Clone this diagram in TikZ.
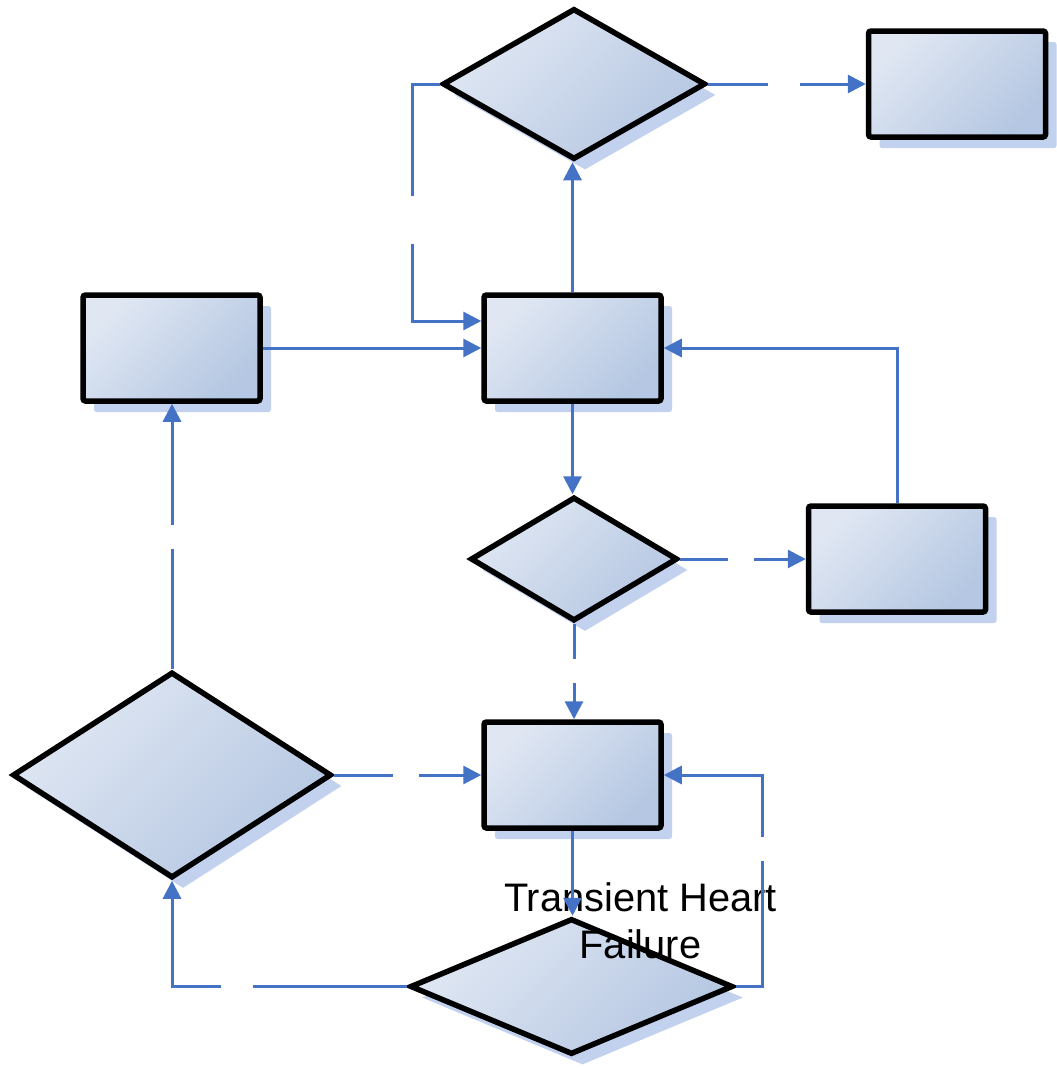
\documentclass[tikz,border=0pt]{standalone}
\usepackage{fontspec}
\setmainfont{Liberation Sans}
\usetikzlibrary{shapes.geometric,arrows.meta,shadows}
\definecolor{linkblue}{RGB}{68,114,196}
\definecolor{filllight}{RGB}{224,231,243}
\definecolor{filldark}{RGB}{181,199,226}
\definecolor{shadowc}{RGB}{194,209,238}
\tikzset{
  shapebase/.style={draw=black, line width=5.5pt, shade, top color=filllight, bottom color=filldark, shading angle=45,
    drop shadow={shadow xshift=11pt, shadow yshift=-11pt, fill=shadowc, opacity=1}, inner sep=0pt},
  procbox/.style={shapebase, rectangle, rounded corners=2.5pt, minimum width=177pt, minimum height=106pt},
  decis/.style={shapebase, diamond},
  link/.style={draw=linkblue, line width=3pt, -{Triangle[length=18pt,width=18pt]}},
  txt/.style={font=\fontsize{39.8}{47}\selectfont, align=center, inner sep=0pt}
}
\begin{document}
\begin{tikzpicture}[x=1pt,y=-1pt]
\useasboundingbox (0,0) rectangle (1057,1068);
% shapes
\node[decis, minimum width=263pt, minimum height=151pt] (D1) at (574,84) {};
\node[procbox] (B1) at (957,84) {};
\node[procbox] (B2) at (171.5,348) {};
\node[procbox] (B3) at (572.5,348) {};
\node[decis, minimum width=207pt, minimum height=124pt] (D2) at (574,559) {};
\node[procbox] (B4) at (897,559) {};
\node[decis, minimum width=319pt, minimum height=206pt] (D3) at (172,775) {};
\node[procbox] (B5) at (572.5,775) {};
\node[decis, minimum width=323pt, minimum height=136pt] (D4) at (571.5,986.5) {};
% label
\node[txt] (T) at (640.5,920.5) {Transient Heart\\Failure};
% connectors
\draw[link, dash pattern=on 139pt off 48pt on 2000pt] (D1.west) -- ++(-27,0) |- ([yshift=27pt]B3.west);
\draw[link] (B3.north) -- (B3.north |- D1.south);
\draw[link, dash pattern=on 60pt off 32pt on 2000pt] (D1.east) -- (B1.west);
\draw[link] (B2.east) -- (B3.west);
\draw[link] (B4.north) |- (B3.east);
\draw[link] (B3.south) -- (B3.south |- D2.north);
\draw[link, dash pattern=on 48pt off 26pt on 2000pt] (D2.east) -- (B4.west);
\draw[link, dash pattern=on 35pt off 24pt on 2000pt] (D2.south) -- (D2.south |- B5.north);
\draw[link, dash pattern=on 120pt off 24pt on 2000pt] (D3.north) -- (D3.north |- B2.south);
\draw[link, dash pattern=on 59pt off 26pt on 2000pt] (D3.east) -- (B5.west);
\draw[link] (B5.south) -- (B5.south |- D4.north);
\draw[link, dash pattern=on 153pt off 24pt on 2000pt] (D4.east) -- ++(27,0) |- (B5.east);
\draw[link, dash pattern=on 154pt off 32pt on 2000pt] (D4.west) -| (D3.south);
\end{tikzpicture}
\end{document}
